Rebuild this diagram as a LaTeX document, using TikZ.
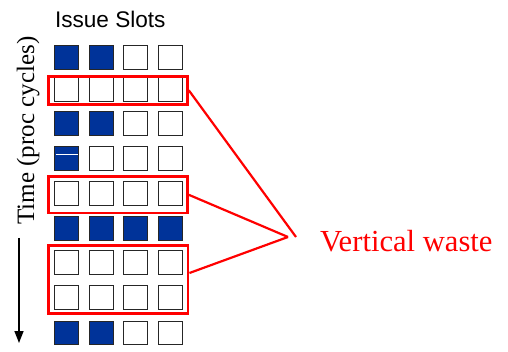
\documentclass[tikz,border=0pt]{standalone}
\usepackage{fontspec}
\setmainfont{Liberation Serif}
\setsansfont{Liberation Sans}
\usetikzlibrary{arrows.meta,calc}
\definecolor{slotblue}{RGB}{0,51,153}
\definecolor{wastered}{RGB}{255,0,0}
\tikzset{
  slot/.style={draw=black!85, line width=1pt, minimum width=24pt, minimum height=23.5pt, inner sep=0pt, fill=white},
  busy/.style={slot, fill=slotblue},
  wastebox/.style={draw=wastered, line width=2.6pt, inner sep=0pt},
  wasteline/.style={draw=wastered, line width=2.2pt},
  lbl/.style={inner sep=0pt, outer sep=0pt}
}
\begin{document}
\begin{tikzpicture}[x=1pt, y=-1pt]
\useasboundingbox (0,0) rectangle (508,352);
% issue slot grid: row / top / pattern
\foreach \r/\t/\a/\b/\c/\d in {1/46/1/1/0/0, 2/78/0/0/0/0, 3/112/1/1/0/0, 4/147/1/0/0/0, 5/182/0/0/0/0, 6/217/1/1/1/1, 7/251/0/0/0/0, 8/286/0/0/0/0, 9/321/1/1/0/0} {
  \foreach \col/\cx/\f in {1/66/\a, 2/101/\b, 3/135/\c, 4/170/\d} {
    \ifnum\f=1
      \node[busy] (s-\r-\col) at (\cx, \t+11.75) {};
    \else
      \node[slot] (s-\r-\col) at (\cx, \t+11.75) {};
    \fi
  }
}
\draw[white, line width=1.2pt] ($(s-4-1.north west)+(2,8)$) -- ($(s-4-1.north east)+(-1,8)$);
% waste boxes
\node[wastebox, minimum width=139pt, minimum height=28pt] (w1) at (118,90.3) {};
\node[wastebox, minimum width=139pt, minimum height=36.5pt] (w2) at (118,194.8) {};
\node[wastebox, minimum width=139.5pt, minimum height=68pt] (w3) at (118.4,279.5) {};
\coordinate (p1) at (296,237);
\coordinate (p2) at (288,237);
\draw[wasteline] (w1.east) -- (p1);
\draw[wasteline] (w2.east) -- (p2);
\draw[wasteline] ($(w3.east)+(0,-6.5)$) -- (p2);
% labels
\node[lbl, anchor=base west, text=wastered, font=\fontsize{30.6}{36}\selectfont] (vw) at (320,252) {Vertical waste};
\node[lbl, anchor=base west, font=\sffamily\fontsize{22.6}{26}\selectfont] (is) at (55,28) {Issue Slots};
\node[lbl, anchor=base, rotate=90, font=\fontsize{25}{30}\selectfont] (tm) at (34,130.5) {Time (proc cycles)};
% time arrow
\coordinate (ta) at (19,238);
\coordinate (tb) at (19,343);
\draw[line width=1.5pt, -{Triangle[length=12pt,width=9pt]}] (ta) -- (tb);
\end{tikzpicture}
\end{document}
